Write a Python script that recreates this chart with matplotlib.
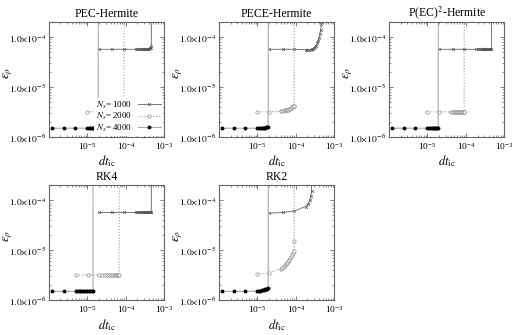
import math
import matplotlib
matplotlib.use('Agg')
import matplotlib.pyplot as plt
from matplotlib.ticker import FixedLocator, FuncFormatter, LogLocator, NullFormatter

plt.rcParams['font.family'] = ['Liberation Serif', 'DejaVu Serif']
plt.rcParams['mathtext.fontset'] = 'stix'

# time steps (dt_ic) per particle number
dt_4000 = [1.2e-6, 2.4e-6, 4.8e-6, 1.0e-5, 1.1e-5, 1.2e-5, 1.3e-5, 1.4e-5,
           1.5e-5, 1.6e-5, 1.7e-5, 1.8e-5, 1.9e-5, 1.95e-5]
dt_2000 = [1.0e-5, 2.0e-5, 4.0e-5, 4.4e-5, 4.8e-5, 5.2e-5, 5.6e-5, 6.0e-5,
           6.4e-5, 6.8e-5, 7.2e-5, 7.6e-5, 8.0e-5, 8.4e-5, 8.8e-5, 9.0e-5, 9.1e-5]
dt_1000 = [2.0e-5, 4.5e-5, 9.0e-5, 1.8e-4, 2.0e-4, 2.2e-4, 2.4e-4, 2.6e-4,
           2.8e-4, 3.0e-4, 3.2e-4, 3.4e-4, 3.6e-4, 3.8e-4, 4.0e-4, 4.2e-4,
           4.4e-4, 4.6e-4, 4.7e-4]

# RK4 uses shifted step ranges
rk4_dt_4000 = [1.2e-6, 2.5e-6, 5.0e-6, 5.5e-6, 6.0e-6, 6.5e-6, 7.0e-6, 7.5e-6,
               8.0e-6, 9.0e-6, 1.0e-5, 1.1e-5, 1.2e-5, 1.3e-5, 1.4e-5, 1.42e-5]
rk4_dt_2000 = [5.0e-6, 1.05e-5, 2.0e-5, 2.4e-5, 2.8e-5, 3.2e-5, 3.6e-5, 4.0e-5,
               4.4e-5, 4.8e-5, 5.2e-5, 5.6e-5, 6.0e-5, 6.4e-5, 6.7e-5, 6.8e-5]

# RK2 N=1000 run diverges earlier
rk2_dt_1000 = [2.0e-5, 4.5e-5, 9.0e-5, 1.8e-4, 2.1e-4, 2.3e-4, 2.45e-4, 2.55e-4, 2.65e-4]

# errors eps_rho (last value diverged, off the chart)
pec_err_4000 = [1.5e-6] * 13 + [1.0e-1]
pec_err_2000 = [3.2e-6, 3.2e-6, 3.3e-6, 3.3e-6, 3.3e-6, 3.3e-6, 3.35e-6, 3.35e-6,
                3.4e-6, 3.4e-6, 3.45e-6, 3.45e-6, 3.5e-6, 3.5e-6, 3.55e-6, 3.6e-6, 1.0e-1]
pec_err_1000 = [5.7e-5, 5.7e-5, 5.7e-5, 5.7e-5, 5.7e-5, 5.7e-5, 5.7e-5, 5.7e-5,
                5.7e-5, 5.7e-5, 5.7e-5, 5.75e-5, 5.8e-5, 5.85e-5, 5.9e-5, 6.0e-5,
                6.2e-5, 6.5e-5, 1.0e-1]

pece_err_4000 = [1.5e-6, 1.5e-6, 1.5e-6, 1.5e-6, 1.5e-6, 1.51e-6, 1.52e-6, 1.53e-6,
                 1.54e-6, 1.55e-6, 1.56e-6, 1.57e-6, 1.58e-6, 1.0e-1]
pece_err_2000 = [3.2e-6, 3.2e-6, 3.25e-6, 3.3e-6, 3.35e-6, 3.4e-6, 3.45e-6, 3.5e-6,
                 3.55e-6, 3.6e-6, 3.7e-6, 3.8e-6, 3.9e-6, 4.0e-6, 4.1e-6, 4.2e-6, 1.0e-1]
pece_err_1000 = [5.7e-5, 5.7e-5, 5.7e-5, 5.6e-5, 5.6e-5, 5.6e-5, 5.6e-5, 5.7e-5,
                 5.8e-5, 6.0e-5, 6.3e-5, 6.8e-5, 7.5e-5, 8.5e-5, 9.8e-5, 1.15e-4,
                 1.4e-4, 1.8e-4, 1.0e-1]

pec2_err_4000 = [1.5e-6] * 13 + [1.0e-1]
pec2_err_2000 = [3.2e-6] * 16 + [1.0e-1]
pec2_err_1000 = [5.7e-5] * 18 + [1.0e-1]

rk4_err_4000 = [1.5e-6] * 15 + [1.0e-1]
rk4_err_2000 = [3.2e-6] * 15 + [1.0e-1]
rk4_err_1000 = [5.7e-5] * 17 + [5.8e-5, 1.0e-1]

rk2_err_4000 = [1.5e-6, 1.5e-6, 1.5e-6, 1.52e-6, 1.54e-6, 1.56e-6, 1.58e-6, 1.6e-6,
                1.62e-6, 1.64e-6, 1.66e-6, 1.68e-6, 1.72e-6, 1.0e-1]
rk2_err_2000 = [3.3e-6, 3.5e-6, 4.3e-6, 4.5e-6, 4.7e-6, 5.0e-6, 5.3e-6, 5.6e-6,
                6.0e-6, 6.4e-6, 6.9e-6, 7.4e-6, 8.0e-6, 8.7e-6, 9.5e-6, 1.5e-5, 1.0e-1]
rk2_err_1000 = [5.5e-5, 5.7e-5, 6.1e-5, 7.5e-5, 8.5e-5, 1.0e-4, 1.2e-4, 1.5e-4, 1.0e-1]

titles = ['PEC-Hermite', 'PECE-Hermite', r'P(EC)$^2$-Hermite', 'RK4', 'RK2']
labels = [r'$N_s$= 1000', r'$N_s$= 2000', r'$N_s$= 4000']

panels = [
    [(dt_1000, pec_err_1000), (dt_2000, pec_err_2000), (dt_4000, pec_err_4000)],
    [(dt_1000, pece_err_1000), (dt_2000, pece_err_2000), (dt_4000, pece_err_4000)],
    [(dt_1000, pec2_err_1000), (dt_2000, pec2_err_2000), (dt_4000, pec2_err_4000)],
    [(dt_1000, rk4_err_1000), (rk4_dt_2000, rk4_err_2000), (rk4_dt_4000, rk4_err_4000)],
    [(rk2_dt_1000, rk2_err_1000), (dt_2000, rk2_err_2000), (dt_4000, rk2_err_4000)],
]

styles = [
    dict(color='#777777', lw=0.7, ls='-', marker='x', ms=2.0, mew=0.5, mec='#555555'),
    dict(color='#999999', lw=0.8, ls=':', marker='o', ms=2.4, mew=0.5, mfc='white', mec='#888888'),
    dict(color='#aaaaaa', lw=0.8, ls='-', marker='o', ms=1.8, mfc='black', mec='black'),
]

fig = plt.figure(figsize=(5.2, 3.35), dpi=100)
lefts = [0.094, 0.421, 0.748]
bottoms = [0.591, 0.104]
w, h = 0.222, 0.343


def yfmt(v, pos):
    e = int(round(math.log10(v)))
    return r'$1.0{\times}10^{%d}$' % e


for i, (title, series) in enumerate(zip(titles, panels)):
    ax = fig.add_axes([lefts[i % 3], bottoms[i // 3], w, h])
    for (x, y), st, lab in zip(series, styles, labels):
        ax.plot(x, y, label=lab, **st)
    ax.set_xscale('log')
    ax.set_yscale('log')
    ax.set_xlim(1e-6, 1e-3)
    ax.set_ylim(1e-6, 2e-4)
    ax.xaxis.set_major_locator(FixedLocator([1e-5, 1e-4, 1e-3]))
    ax.yaxis.set_major_locator(FixedLocator([1e-6, 1e-5, 1e-4]))
    ax.xaxis.set_minor_locator(LogLocator(subs=range(2, 10)))
    ax.yaxis.set_minor_locator(LogLocator(subs=range(2, 10)))
    ax.xaxis.set_minor_formatter(NullFormatter())
    ax.yaxis.set_minor_formatter(NullFormatter())
    ax.yaxis.set_major_formatter(FuncFormatter(yfmt))
    ax.tick_params(which='both', direction='in', top=True, right=True,
                   labelsize=6.8, color='#666666')
    ax.tick_params(axis='y', pad=2)
    ax.tick_params(axis='x', pad=3)
    ax.tick_params(which='major', length=3, width=0.6)
    ax.tick_params(which='minor', length=1.5, width=0.5)
    for sp in ax.spines.values():
        sp.set_color('#666666')
        sp.set_linewidth(0.8)
    ax.set_title(title, fontsize=8.5, pad=4)
    ax.set_xlabel(r'$dt_{\rm ic}$', fontsize=9, labelpad=1)
    ax.set_ylabel(r'$\varepsilon_\rho$', fontsize=9.5)
    ax.yaxis.set_label_coords(-0.29, 0.56)
    if i == 0:
        ax.legend(loc='lower right', fontsize=6.5, markerfirst=False,
                  frameon=True, framealpha=1, edgecolor='none',
                  handlelength=2.6, handletextpad=0.6, labelspacing=0.05,
                  borderpad=0.2, borderaxespad=0.15, fancybox=False)

fig.savefig('out.png', dpi=100)
